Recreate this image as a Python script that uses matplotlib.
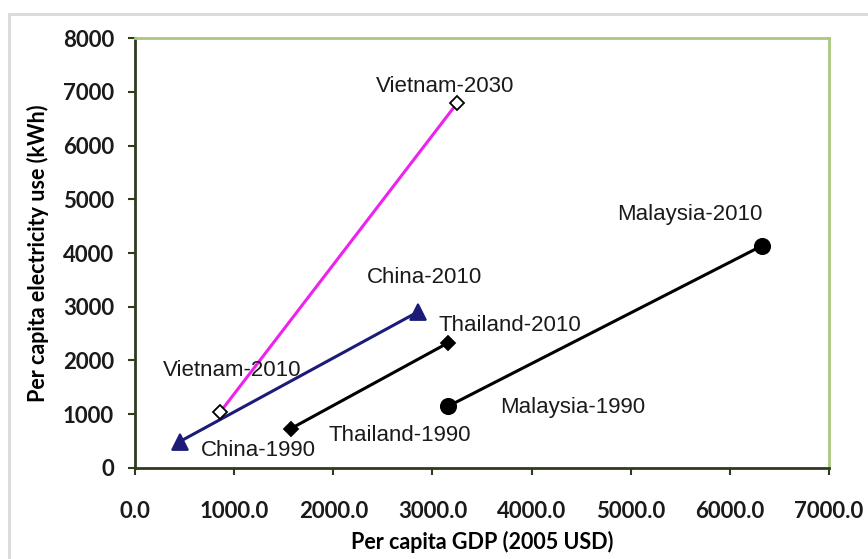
import matplotlib.pyplot as plt
from matplotlib.patches import Rectangle

# data
countries = ['Vietnam', 'China', 'Thailand', 'Malaysia']
gdp_start = [860, 450, 1570, 3160]
gdp_end = [3250, 2850, 3160, 6320]
elec_start = [1040, 490, 730, 1150]
elec_end = [6790, 2900, 2330, 4130]
year_start = ['2010', '1990', '1990', '1990']
year_end = ['2030', '2010', '2010', '2010']

line_colors = ['#ee22ee', '#1c1c78', 'black', 'black']
marker_styles = ['D', '^', 'D', 'o']
marker_faces = ['white', '#1c1c78', 'black', 'black']
marker_sizes = [7, 11, 7, 11]

# label positions (x, y) in data units: start label, end label
label_start_pos = [(980, 1820), (1240, 330), (2670, 610), (4420, 1120)]
label_end_pos = [(3130, 7090), (2920, 3550), (3780, 2660), (5600, 4710)]

fig = plt.figure(figsize=(8.68, 5.59), dpi=100)
ax = fig.add_axes([0.1555, 0.1628, 0.7995, 0.7692])

# outer chart frame (light grey)
fig.patches.append(Rectangle((9 / 868, -0.1), 1.2, 1 - 14 / 559 + 0.1,
                             transform=fig.transFigure, fill=False,
                             edgecolor='#d9d9d9', linewidth=2))

for i, c in enumerate(countries):
    ax.plot([gdp_start[i], gdp_end[i]], [elec_start[i], elec_end[i]],
            color=line_colors[i], linewidth=2.2, zorder=2)
    mec = 'black' if marker_styles[i] == 'D' else line_colors[i]
    ax.plot([gdp_start[i], gdp_end[i]], [elec_start[i], elec_end[i]],
            linestyle='none', marker=marker_styles[i], markersize=marker_sizes[i],
            markerfacecolor=marker_faces[i], markeredgecolor=mec,
            markeredgewidth=1.3, zorder=3)
    ax.text(*label_start_pos[i], c + '-' + year_start[i], ha='center', va='center',
            fontsize=16, family='Liberation Sans', color='#1a1a1a')
    ax.text(*label_end_pos[i], c + '-' + year_end[i], ha='center', va='center',
            fontsize=16, family='Liberation Sans', color='#1a1a1a')

ax.set_xlim(0, 7000)
ax.set_ylim(0, 8000)
ax.set_xticks(range(0, 7001, 1000))
ax.set_xticklabels([f'{v:.1f}' for v in range(0, 7001, 1000)])
ax.set_yticks(range(0, 8001, 1000))

for s in ['left', 'bottom']:
    ax.spines[s].set_color('#2e3b1f')
    ax.spines[s].set_linewidth(2)
for s in ['top', 'right']:
    ax.spines[s].set_color('#a9c77f')
    ax.spines[s].set_linewidth(2)

ax.tick_params(axis='both', direction='out', length=5, width=1.5, color='#2e3b1f')
ax.tick_params(axis='x', pad=19)
ax.tick_params(axis='y', pad=10)
for lab in ax.get_xticklabels() + ax.get_yticklabels():
    lab.set_family('Lato')
    lab.set_fontweight('bold')
    lab.set_fontsize(16)
    lab.set_color('#1a1a1a')

ax.set_xlabel('Per capita GDP (2005 USD)', fontsize=15.5, fontweight='bold',
              family='Lato', labelpad=6)
ax.set_ylabel('Per capita electricity use (kWh)', fontsize=15.5, fontweight='bold',
              family='Lato', labelpad=10)

fig.savefig('out.png', dpi=100)
